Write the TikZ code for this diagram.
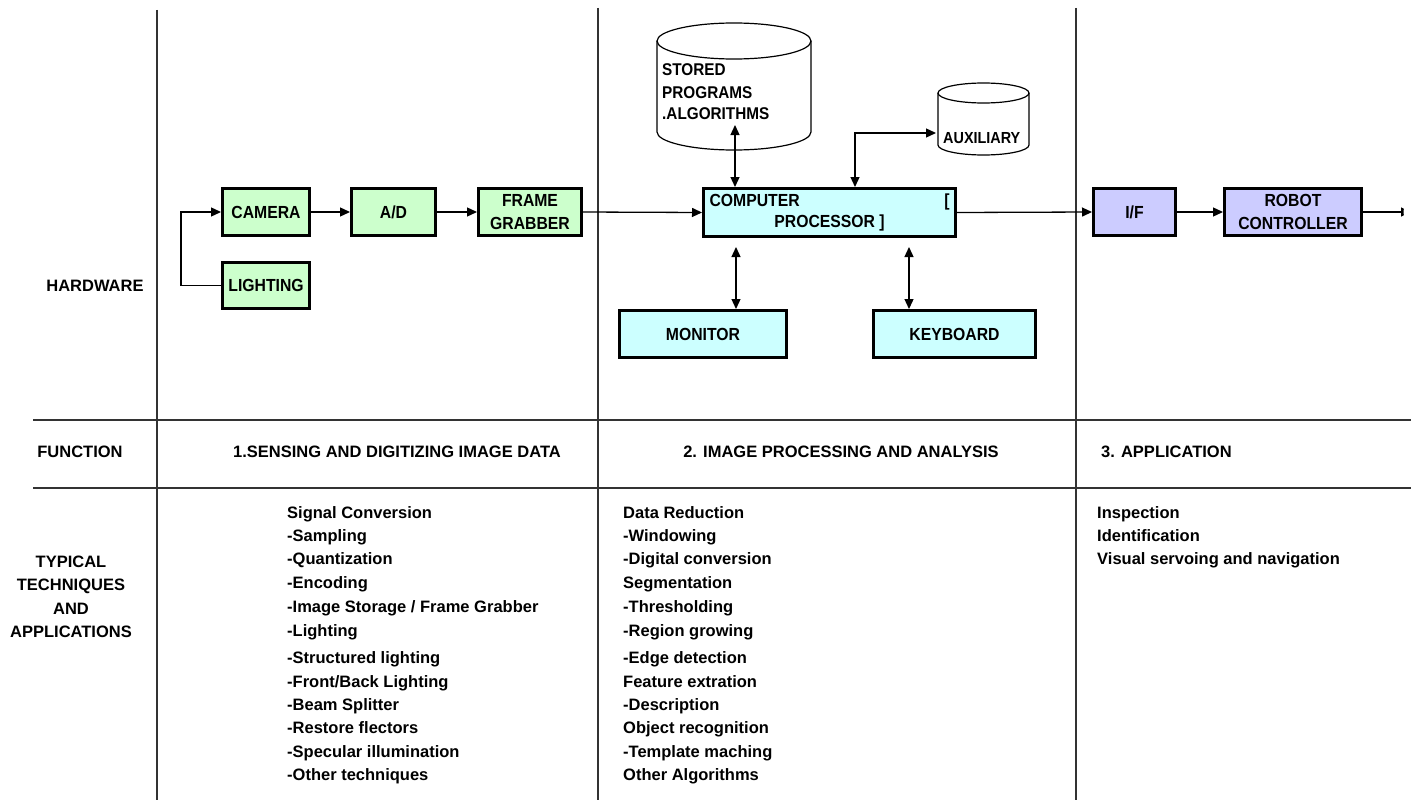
\documentclass[tikz,border=0pt]{standalone}
\usepackage{fontspec}
\setmainfont{Liberation Sans}
\newfontfamily\boxfont{Liberation Sans}[FakeStretch=0.9]
\usetikzlibrary{arrows.meta}
\definecolor{hwgreen}{HTML}{CCFFCC}
\definecolor{hwcyan}{HTML}{CCFFFF}
\definecolor{hwblue}{HTML}{CCCCFF}
\begin{document}
\begin{tikzpicture}[x=1pt,y=-1pt,
  box/.style={draw=black, line width=3pt, inner sep=0pt, align=center,
    font=\boxfont\bfseries\fontsize{17.5}{23}\selectfont},
  arr/.style={line width=1.3pt, -{Triangle[length=10pt,width=9pt]}},
  dbl/.style={line width=1.3pt, {Triangle[length=10pt,width=9pt]}-{Triangle[length=10pt,width=9pt]}},
  grid/.style={line width=1.5pt, draw=black!80},
  cyl/.style={line width=1.2pt, draw=black},
  lbl/.style={inner sep=0pt, font=\bfseries\fontsize{16.5}{23.5}\selectfont},
  cyltext/.style={inner sep=0pt, anchor=base west, font=\boxfont\bfseries\fontsize{17}{21}\selectfont}]

% canvas
\fill[white] (0,0) rectangle (1411,800);
\clip (0,0) rectangle (1411,800);

% table rules
\draw[grid] (157,10) -- (157,800);
\draw[grid] (598,8) -- (598,800);
\draw[grid] (1076,8) -- (1076,800);
\draw[grid] (33,420) -- (1411,420);
\draw[grid] (33,488) -- (1411,488);

% row headings
\node[lbl] (hw) at (95,286) {HARDWARE};
\node[lbl] (fn) at (80,452) {FUNCTION};
\node[lbl, align=center] (tt) at (71,597) {TYPICAL\\TECHNIQUES\\AND\\APPLICATIONS};

% stage 1: sensing hardware
\node[box, fill=hwgreen, minimum width=87pt, minimum height=47pt] (camera) at (266,212) {CAMERA};
\node[box, fill=hwgreen, minimum width=84pt, minimum height=47pt] (ad) at (393.5,212) {A/D};
\node[box, fill=hwgreen, minimum width=103pt, minimum height=47pt] (grabber) at (530,212) {FRAME\\GRABBER};
\node[box, fill=hwgreen, minimum width=87pt, minimum height=46pt] (lighting) at (266,285.5) {LIGHTING};

\draw[arr] (camera) -- (ad);
\draw[arr] (ad) -- (grabber);
\draw[arr] (lighting.west) -- ++(-40,0) |- (camera.west);

% stage 2: processing hardware
\node[box, fill=hwcyan, minimum width=252pt, minimum height=48pt] (computer) at (829.5,212.5)
  {\parbox{240pt}{\baselineskip=21pt COMPUTER\hfill[\par\centering PROCESSOR ]\par}};
\node[box, fill=hwcyan, minimum width=167pt, minimum height=47pt] (monitor) at (703,334) {MONITOR};
\node[box, fill=hwcyan, minimum width=162pt, minimum height=47pt] (keyboard) at (954.5,334) {KEYBOARD};

% storage cylinders
\draw[cyl] (657,41) -- (657,132) arc[start angle=180, end angle=360, x radius=77pt, y radius=18pt] -- (811,41);
\draw[cyl] (734,41) ellipse[x radius=77pt, y radius=18pt];
\node[cyltext] (st1) at (662,76) {STORED};
\node[cyltext] (st2) at (662,98) {PROGRAMS};
\node[cyltext] (st3) at (662,119) {.ALGORITHMS};

\draw[cyl] (938,93) -- (938,145) arc[start angle=180, end angle=360, x radius=45.5pt, y radius=10pt] -- (1029,93);
\draw[cyl] (983.5,93) ellipse[x radius=45.5pt, y radius=10pt];
\node[cyltext, font=\boxfont\bfseries\fontsize{16}{21}\selectfont] (aux) at (943,143) {AUXILIARY};

\coordinate (dbtip) at (735,125);
\coordinate (auxin) at (936,133);
\coordinate (auxturn) at (855,133);
\coordinate (monx) at (736,247);
\coordinate (keyx) at (909,247);

\draw[arr] (grabber.east) -- (computer.west);
\draw[dbl] (dbtip) -- (computer.north -| dbtip);
\draw[dbl] (auxin) -- (auxturn) -- (computer.north -| auxturn);
\draw[dbl] (monx) -- (monitor.north -| monx);
\draw[dbl] (keyx) -- (keyboard.north -| keyx);

% stage 3: application hardware
\node[box, fill=hwblue, minimum width=82pt, minimum height=47pt] (iface) at (1134.5,212) {I/F};
\node[box, fill=hwblue, minimum width=137pt, minimum height=47pt] (robot) at (1293,212) {ROBOT\\CONTROLLER};
\coordinate (robout) at (1411,212);

\draw[arr] (computer.east) -- (iface.west);
\draw[arr] (iface) -- (robot);
\begin{scope}
  \clip (1360,190) rectangle (1403.5,235);
  \draw[arr] (robot.east) -- (robout);
\end{scope}

% function row
\node[lbl] (f1) at (397,452) {1.SENSING AND DIGITIZING IMAGE DATA};
\node[lbl] (f2) at (841,452) {2. IMAGE PROCESSING AND ANALYSIS};
\node[lbl, anchor=west] (f3) at (1101,452) {3. APPLICATION};

% techniques row
\foreach \t [count=\i] in {Signal Conversion, -Sampling, -Quantization, -Encoding,
    -Image Storage / Frame Grabber, -Lighting, -Structured lighting, -Front/Back Lighting,
    -Beam Splitter, -Restore flectors, -Specular illumination, -Other techniques}{
  \pgfmathsetmacro{\yy}{{512,535,558,582,606,630,657,681,704,727,751,774}[\i-1]+6}
  \node[lbl, anchor=base west] (ta\i) at (287,\yy) {\t};
}
\foreach \t [count=\i] in {Data Reduction, -Windowing, -Digital conversion, Segmentation,
    -Thresholding, -Region growing, -Edge detection, Feature extration, -Description,
    Object recognition, -Template maching, Other Algorithms}{
  \pgfmathsetmacro{\yy}{{512,535,558,582,606,630,657,681,704,727,751,774}[\i-1]+6}
  \node[lbl, anchor=base west] (tb\i) at (623,\yy) {\t};
}
\foreach \t [count=\i] in {Inspection, Identification, Visual servoing and navigation}{
  \pgfmathsetmacro{\yy}{{512,535,558}[\i-1]+6}
  \node[lbl, anchor=base west] (tc\i) at (1097,\yy) {\t};
}
\end{tikzpicture}
\end{document}
